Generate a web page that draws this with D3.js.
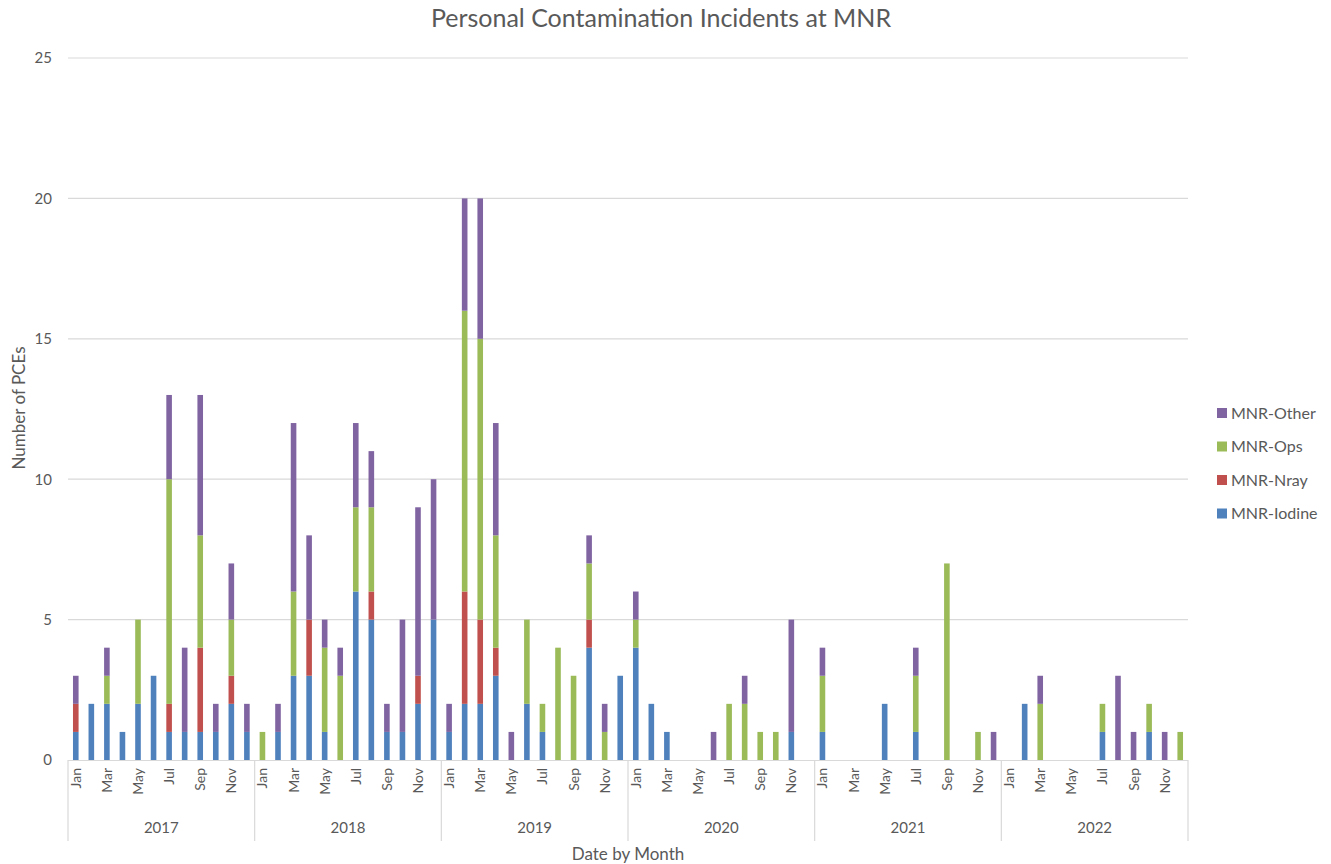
<!DOCTYPE html>
<html>
<head>
<meta charset="utf-8">
<script src="https://cdn.jsdelivr.net/npm/d3@7"></script>
<style>
  body { margin: 0; background: #fff; }
  svg text { font-family: Lato, "Noto Sans", sans-serif; fill: #595959; }
</style>
</head>
<body>
<svg id="chart" width="1331" height="864"></svg>
<script>
// chart values
var years = ["2017", "2018", "2019", "2020", "2021", "2022"];
var monthNames = ["Jan","Feb","Mar","Apr","May","Jun","Jul","Aug","Sep","Oct","Nov","Dec"];
var seriesKeys = ["MNR-Iodine", "MNR-Nray", "MNR-Ops", "MNR-Other"];
var seriesColors = ["#4F81BD", "#C0504D", "#9BBB59", "#8064A2"];
var yTicks = [0, 5, 10, 15, 20, 25];

var iodine = [
  1,2,2,1,2,3,1,1,1,1,2,1,
  0,1,3,3,1,0,6,5,1,1,2,5,
  1,2,2,3,0,2,1,0,0,4,0,3,
  4,2,1,0,0,0,0,0,0,0,1,0,
  1,0,0,0,2,0,1,0,0,0,0,0,
  0,2,0,0,0,0,1,0,0,1,0,0
];
var nray = [
  1,0,0,0,0,0,1,0,3,0,1,0,
  0,0,0,2,0,0,0,1,0,0,1,0,
  0,4,3,1,0,0,0,0,0,1,0,0,
  0,0,0,0,0,0,0,0,0,0,0,0,
  0,0,0,0,0,0,0,0,0,0,0,0,
  0,0,0,0,0,0,0,0,0,0,0,0
];
var ops = [
  0,0,1,0,3,0,8,0,4,0,2,0,
  1,0,3,0,3,3,3,3,0,0,0,0,
  0,10,10,4,0,3,1,4,3,2,1,0,
  1,0,0,0,0,0,2,2,1,1,0,0,
  2,0,0,0,0,0,2,0,7,0,1,0,
  0,0,2,0,0,0,1,0,0,1,0,1
];
var other = [
  1,0,1,0,0,0,3,3,5,1,2,1,
  0,1,6,3,1,1,3,2,1,4,6,5,
  1,4,5,4,1,0,0,0,0,1,1,0,
  1,0,0,0,0,1,0,1,0,0,4,0,
  1,0,0,0,0,0,1,0,0,0,0,1,
  0,0,1,0,0,0,0,3,1,0,1,0
];

var svg = d3.select("#chart");
var margin = { top: 58, left: 68, right: 143, bottom: 104 };
var width = 1331 - margin.left - margin.right;
var height = 864 - margin.top - margin.bottom;

// build rows for the stack
var rows = [];
years.forEach(function (yr, yi) {
    monthNames.forEach(function (m, mi) {
        var i = yi * 12 + mi;
        rows.push({ id: yr + "-" + m, year: yr, month: m, mi: mi,
            "MNR-Iodine": iodine[i], "MNR-Nray": nray[i], "MNR-Ops": ops[i], "MNR-Other": other[i] });
    });
});

var g = svg.append("g").attr("transform", "translate(" + margin.left + "," + margin.top + ")");

var xScale = d3.scaleBand().domain(rows.map(d => d.id)).range([0, width]).paddingInner(0.64).paddingOuter(0.32);
var yScale = d3.scaleLinear().domain([0, 25]).range([height, 0]);
var color = d3.scaleOrdinal().domain(seriesKeys).range(seriesColors);

// gridlines
g.append("g").selectAll("line").data(yTicks.slice(1)).join("line")
    .attr("x1", 0).attr("x2", width)
    .attr("y1", d => yScale(d)).attr("y2", d => yScale(d))
    .attr("stroke", "#d9d9d9").attr("stroke-width", 1.2);

// y axis labels
var yAxis = g.append("g").call(d3.axisLeft(yScale).tickValues(yTicks).tickSize(0).tickPadding(16));
yAxis.select(".domain").remove();
yAxis.selectAll("text").style("font-size", "15px").attr("fill", "#595959");

// stacked bars
var stacked = d3.stack().keys(seriesKeys)(rows);
g.append("g").selectAll("g").data(stacked).join("g")
    .attr("fill", d => color(d.key))
    .selectAll("rect").data(d => d).join("rect")
    .attr("x", d => xScale(d.data.id))
    .attr("width", xScale.bandwidth())
    .attr("y", d => yScale(d[1]))
    .attr("height", d => yScale(d[0]) - yScale(d[1]));

// category axis (months + years)
var yearW = width / years.length;
var axisG = g.append("g").attr("transform", "translate(0," + height + ")");
axisG.append("line").attr("x1", 0).attr("x2", width).attr("y1", 0.5).attr("y2", 0.5)
    .attr("stroke", "#d9d9d9").attr("stroke-width", 1.2);
axisG.selectAll(".sep").data(d3.range(years.length + 1)).join("line")
    .attr("class", "sep")
    .attr("x1", i => i * yearW).attr("x2", i => i * yearW)
    .attr("y1", 0).attr("y2", 81)
    .attr("stroke", "#d9d9d9").attr("stroke-width", 1.2);
axisG.selectAll(".mlab").data(rows.filter(d => d.mi % 2 == 0)).join("text")
    .attr("class", "mlab")
    .attr("transform", d => "translate(" + (xScale(d.id) + xScale.bandwidth() / 2 + 5) + ",8) rotate(-90)")
    .attr("text-anchor", "end")
    .style("font-size", "14px")
    .text(d => d.month);
axisG.selectAll(".ylab").data(years).join("text")
    .attr("class", "ylab")
    .attr("x", (d, i) => i * yearW + yearW / 2)
    .attr("y", 73)
    .attr("text-anchor", "middle")
    .style("font-size", "15px")
    .text(d => d);

// titles
svg.append("text").attr("x", 661).attr("y", 27).attr("text-anchor", "middle")
    .style("font-size", "25px").text("Personal Contamination Incidents at MNR");
svg.append("text").attr("x", 628).attr("y", 860).attr("text-anchor", "middle")
    .style("font-size", "17px").text("Date by Month");
svg.append("text").attr("transform", "translate(25,408) rotate(-90)").attr("text-anchor", "middle")
    .style("font-size", "17px").text("Number of PCEs");

// legend (top to bottom: Other, Ops, Nray, Iodine)
var legend = svg.append("g").attr("transform", "translate(1217,413)");
var legendItems = seriesKeys.slice().reverse();
legendItems.forEach(function (k, i) {
    var row = legend.append("g").attr("transform", "translate(0," + (i * 33.5) + ")");
    row.append("rect").attr("x", 0).attr("y", -5).attr("width", 10).attr("height", 10).attr("fill", color(k));
    row.append("text").attr("x", 14).attr("y", 0).attr("dy", "0.35em").style("font-size", "16px").text(k);
});
</script>
</body>
</html>
